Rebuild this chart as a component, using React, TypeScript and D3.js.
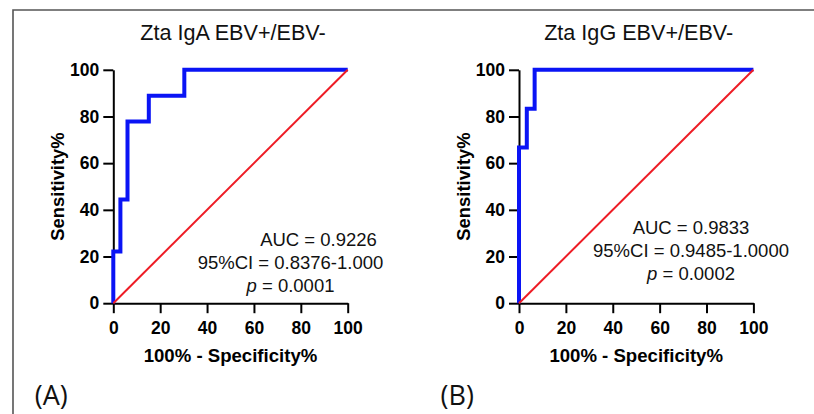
import React, { useEffect, useRef } from 'react';
import * as d3 from 'd3';

// ROC curve corners (x = 100% - specificity, y = sensitivity)
const igaFpr = [0, 0, 3.03, 3.03, 6.06, 6.06, 15.15, 15.15, 30.3, 30.3, 100];
const igaTpr = [0, 22.2, 22.2, 44.4, 44.4, 77.8, 77.8, 88.9, 88.9, 100, 100];

const iggFpr = [0, 0, 3.33, 3.33, 6.67, 6.67, 100];
const iggTpr = [0, 66.7, 66.7, 83.3, 83.3, 100, 100];

const refLine = [0, 100];
const tickValues = [0, 20, 40, 60, 80, 100];

const titles = ['Zta IgA EBV+/EBV-', 'Zta IgG EBV+/EBV-'];
const aucLabels = ['AUC = 0.9226', 'AUC = 0.9833'];
const ciLabels = ['95%CI = 0.8376-1.000', '95%CI = 0.9485-1.0000'];
const pLabels = ['0.0001', '0.0002'];
const panelLetters = ['(A)', '(B)'];

const FONT = '"Liberation Sans", Arial, Helvetica, sans-serif';

const App = () => {
  const svgRef = useRef(null);

  useEffect(() => {
    const svg = d3.select(svgRef.current);
    svg.selectAll('*').remove();

    // figure frame (top and left edges only visible)
    svg.append('path')
      .attr('d', 'M13,414 L13,10 L814,10')
      .attr('fill', 'none')
      .attr('stroke', '#555')
      .attr('stroke-width', 1.6);

    const panels = [
      { left: 113.3, fpr: igaFpr, tpr: igaTpr, ann: { aucX: 318.5, textX: 290.5, base: 246 } },
      { left: 519, fpr: iggFpr, tpr: iggTpr, ann: { aucX: 691, textX: 691, base: 234 } },
    ];
    const plotW = 234.4;
    const top = 69.8;
    const bottom = 303.2;

    panels.forEach((p, i) => {
      const x = d3.scaleLinear().domain([0, 100]).range([p.left, p.left + plotW]);
      const y = d3.scaleLinear().domain([0, 100]).range([bottom, top]);

      // title
      svg.append('text')
        .attr('x', (x(0) + x(100)) / 2 + 2.5)
        .attr('y', 40)
        .attr('text-anchor', 'middle')
        .style('font-family', FONT)
        .style('font-size', '21.6px')
        .style('fill', '#111')
        .text(titles[i]);

      // axes
      const xAxis = svg.append('g')
        .attr('transform', `translate(0,${bottom})`)
        .call(d3.axisBottom(x).tickValues(tickValues).tickSize(10).tickSizeOuter(0).tickPadding(8));
      const yAxis = svg.append('g')
        .attr('transform', `translate(${p.left},0)`)
        .call(d3.axisLeft(y).tickValues(tickValues).tickSize(10).tickSizeOuter(0).tickPadding(4));

      [xAxis, yAxis].forEach(ax => {
        ax.select('.domain').attr('stroke', '#000').attr('stroke-width', 2);
        ax.selectAll('.tick line').attr('stroke', '#000').attr('stroke-width', 2);
        ax.selectAll('.tick text')
          .style('font-family', FONT)
          .style('font-size', '17.5px')
          .style('font-weight', 'bold')
          .style('fill', '#000');
      });

      // axis titles
      svg.append('text')
        .attr('x', (x(0) + x(100)) / 2)
        .attr('y', 361.5)
        .attr('text-anchor', 'middle')
        .style('font-family', FONT)
        .style('font-size', '18.6px')
        .style('font-weight', 'bold')
        .text('100% - Specificity%');

      svg.append('text')
        .attr('transform', `translate(${p.left - 49},${(top + bottom) / 2}) rotate(-90)`)
        .attr('text-anchor', 'middle')
        .style('font-family', FONT)
        .style('font-size', '18.4px')
        .style('font-weight', 'bold')
        .text('Sensitivity%');

      // ROC curve
      const roc = d3.line<number>()
        .x((_, j) => x(p.fpr[j]))
        .y((_, j) => y(p.tpr[j]));

      svg.append('path')
        .datum(p.fpr)
        .attr('d', roc)
        .attr('fill', 'none')
        .attr('stroke', '#0a14f5')
        .attr('stroke-width', 4)
        .attr('stroke-linejoin', 'miter');

      // reference diagonal
      const diag = d3.line<number>()
        .x(d => x(d))
        .y(d => y(d));

      svg.append('path')
        .datum(refLine)
        .attr('d', diag)
        .attr('fill', 'none')
        .attr('stroke', '#ee1c25')
        .attr('stroke-width', 2);

      // annotation
      const ann = svg.append('g')
        .style('font-family', FONT)
        .style('font-size', '18.5px')
        .style('fill', '#111')
        .attr('text-anchor', 'middle');

      ann.append('text')
        .attr('x', p.ann.aucX)
        .attr('y', p.ann.base)
        .text(aucLabels[i]);
      ann.append('text')
        .attr('x', p.ann.textX)
        .attr('y', p.ann.base + 22.8)
        .text(ciLabels[i]);
      const pt = ann.append('text')
        .attr('x', p.ann.textX)
        .attr('y', p.ann.base + 45.6);
      pt.append('tspan').style('font-style', 'italic').text('p');
      pt.append('tspan').text(` = ${pLabels[i]}`);

      // panel letter
      svg.append('text')
        .attr('x', p.left - 78.5)
        .attr('y', 405)
        .style('font-family', '"Open Sans", sans-serif')
        .style('font-size', '27px')
        .style('fill', '#111')
        .text(panelLetters[i]);
    });
  }, []);

  return (
    <svg
      ref={svgRef}
      width={814}
      height={414}
      style={{ position: 'absolute', left: 0, top: 0, background: '#fff', display: 'block' }}
    />
  );
};

export default App;
